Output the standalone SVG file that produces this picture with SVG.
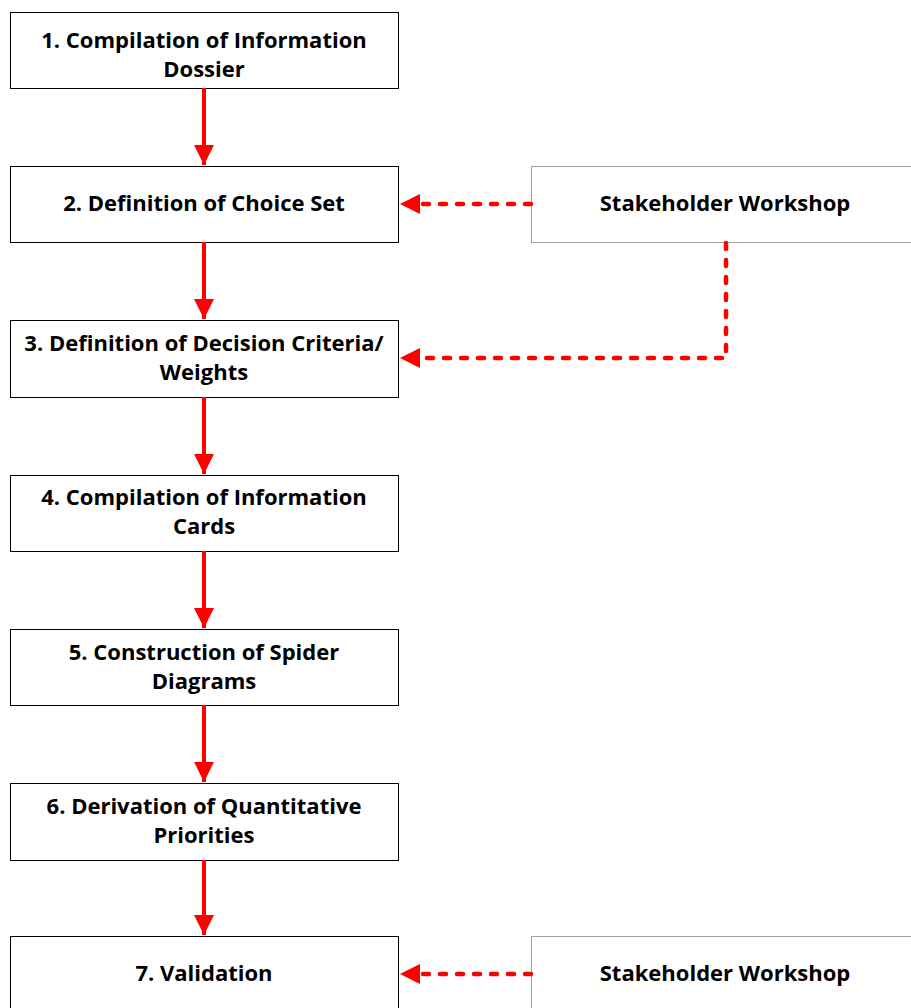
<svg xmlns="http://www.w3.org/2000/svg" width="911" height="1008" viewBox="0 0 911 1008">
<style>
.box{fill:#fff;stroke:#000;stroke-width:1}
.ext{fill:#fff;stroke:#444;stroke-width:1;stroke-dasharray:1 1}
.t{font-family:"Open Sans","Liberation Sans",Arial,sans-serif;font-weight:bold;font-size:22px;fill:#000;text-anchor:middle}
.solid{stroke:#ff0000;stroke-width:4;fill:none}
.dash{stroke:#ff0000;stroke-width:4.5;fill:none;stroke-dasharray:6 11;stroke-linecap:round}
</style>
<defs>
<marker id="ah" markerUnits="userSpaceOnUse" markerWidth="22" markerHeight="22" refX="20" refY="10" orient="auto">
<path d="M0,0 L20,10 L0,20 Z" fill="#ff0000"/>
</marker>
</defs>
<rect width="911" height="1008" fill="#fff"/>
<g id="n1"><rect class="box" x="10.5" y="12.5" width="388" height="76"/><text class="t" x="204" y="48">1. Compilation of Information</text><text class="t" x="204" y="77">Dossier</text></g>
<g id="n2"><rect class="box" x="10.5" y="166.5" width="388" height="76"/><text class="t" x="204" y="211">2. Definition of Choice Set</text></g>
<g id="n3"><rect class="box" x="10.5" y="320.5" width="388" height="77"/><text class="t" x="204" y="351">3. Definition of Decision Criteria/</text><text class="t" x="204" y="380">Weights</text></g>
<g id="n4"><rect class="box" x="10.5" y="475.5" width="388" height="76"/><text class="t" x="204" y="505">4. Compilation of Information</text><text class="t" x="204" y="534">Cards</text></g>
<g id="n5"><rect class="box" x="10.5" y="629.5" width="388" height="76"/><text class="t" x="204" y="660">5. Construction of Spider</text><text class="t" x="204" y="689">Diagrams</text></g>
<g id="n6"><rect class="box" x="10.5" y="783.5" width="388" height="77"/><text class="t" x="204" y="814">6. Derivation of Quantitative</text><text class="t" x="204" y="843">Priorities</text></g>
<g id="n7"><rect class="box" x="10.5" y="936.5" width="388" height="80"/><text class="t" x="204" y="981">7. Validation</text></g>
<g id="sw1"><rect class="ext" x="531.5" y="166.5" width="400" height="76"/><text class="t" x="725" y="211">Stakeholder Workshop</text></g>
<g id="sw2"><rect class="ext" x="531.5" y="936.5" width="400" height="80"/><text class="t" x="725" y="981">Stakeholder Workshop</text></g>
<g id="connectors">
<line class="solid" x1="204" y1="88" x2="204" y2="165" marker-end="url(#ah)"/>
<line class="solid" x1="204" y1="242" x2="204" y2="319" marker-end="url(#ah)"/>
<line class="solid" x1="204" y1="397" x2="204" y2="474" marker-end="url(#ah)"/>
<line class="solid" x1="204" y1="551" x2="204" y2="628" marker-end="url(#ah)"/>
<line class="solid" x1="204" y1="705" x2="204" y2="782" marker-end="url(#ah)"/>
<line class="solid" x1="204" y1="860" x2="204" y2="935" marker-end="url(#ah)"/>
<path class="dash" d="M531,204 H400" marker-end="url(#ah)"/>
<path class="dash" d="M726,243 V358 H400" marker-end="url(#ah)"/>
<path class="dash" d="M531,974 H400" marker-end="url(#ah)"/>
</g>
</svg>
